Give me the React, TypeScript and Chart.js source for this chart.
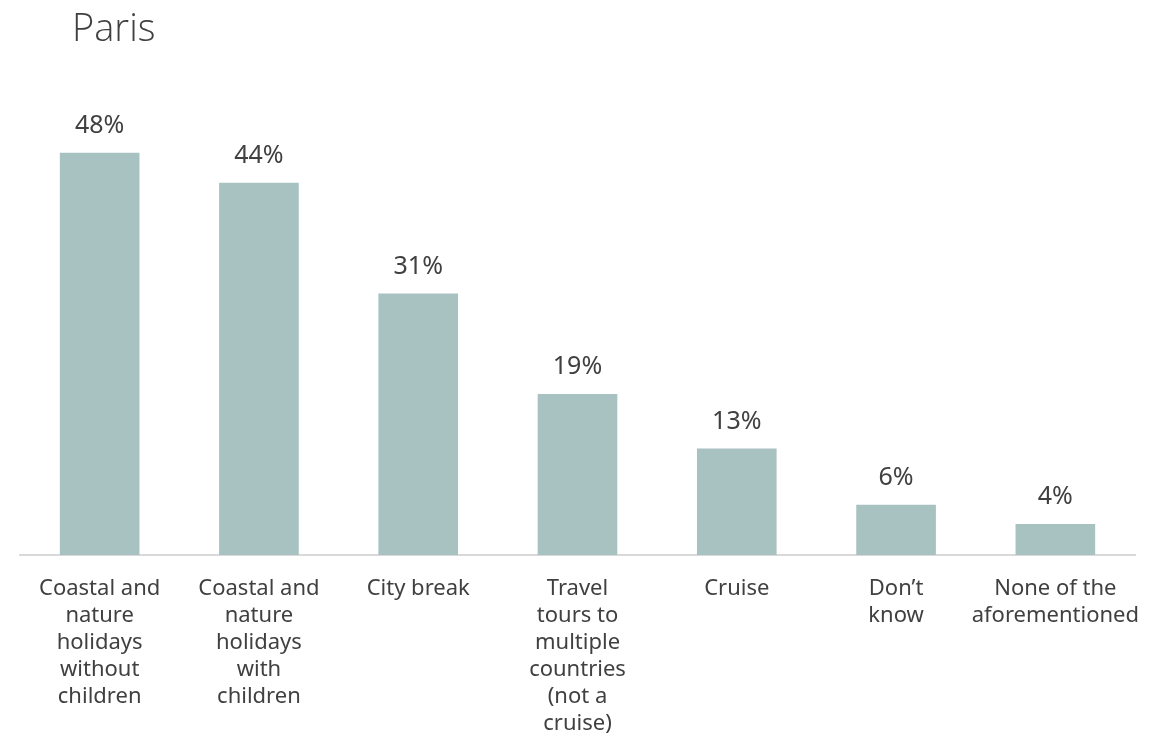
import React, { useEffect, useRef } from "react";
import { Chart, registerables } from "chart.js";

Chart.register(...registerables);

const titleText = "Paris";
const categories: string[][] = [
  ["Coastal and", "nature", "holidays", "without", "children"],
  ["Coastal and", "nature", "holidays", "with", "children"],
  ["City break"],
  ["Travel", "tours to", "multiple", "countries", "(not a", "cruise)"],
  ["Cruise"],
  ["Don\u2019t", "know"],
  ["None of the", "aforementioned"],
];
const values: number[] = [48, 44.4, 31.2, 19.2, 12.7, 6, 3.7];
const valueLabels: string[] = ["48%", "44%", "31%", "19%", "13%", "6%", "4%"];

const FONT = "'Noto Sans', sans-serif";
const TEXT = "#404040";
const BAR = "#A7C2C0";

export default function App() {
  const ref = useRef<HTMLCanvasElement | null>(null);
  useEffect(() => {
    if (!ref.current) return;
    const labelPlugin = {
      id: "valueLabels",
      afterDatasetsDraw(chart: any) {
        const ctx = chart.ctx;
        const meta = chart.getDatasetMeta(0);
        ctx.save();
        ctx.fillStyle = TEXT;
        ctx.font = `25px ${FONT}`;
        ctx.textAlign = "center";
        ctx.textBaseline = "middle";
        meta.data.forEach((bar: any, i: number) => {
          ctx.fillText(valueLabels[i], bar.x, bar.y - 27);
        });
        ctx.restore();
      },
    };
    const titlePlugin = {
      id: "leftTitle",
      afterDraw(chart: any) {
        const ctx = chart.ctx;
        ctx.save();
        ctx.fillStyle = TEXT;
        ctx.font = `300 38px 'Open Sans', sans-serif`;
        ctx.textAlign = "left";
        ctx.textBaseline = "middle";
        ctx.fillText(titleText, 72, 30);
        ctx.restore();
      },
    };
    const chart = new Chart(ref.current, {
      type: "bar",
      data: {
        labels: categories,
        datasets: [
          {
            data: values,
            backgroundColor: BAR,
            barPercentage: 0.5,
            categoryPercentage: 1,
          },
        ],
      },
      options: {
        animation: false,
        responsive: true,
        maintainAspectRatio: false,
        layout: { padding: { left: 20, right: 33, top: 94, bottom: 0 } },
        plugins: {
          legend: { display: false },
          tooltip: { enabled: false },
          title: { display: false },
        },
        scales: {
          x: {
            grid: { display: false, drawTicks: false },
            border: { display: true, color: "#D9D9D9", width: 2 },
            ticks: {
              color: TEXT,
              font: { family: FONT, size: 22, lineHeight: 1.23 },
              padding: 20,
              maxRotation: 0,
              autoSkip: false,
            },
            afterFit(scale: any) {
              scale.height = 189;
            },
          },
          y: {
            display: false,
            min: 0,
            max: 55,
          },
        },
      },
      plugins: [labelPlugin, titlePlugin],
    });
    return () => chart.destroy();
  }, []);
  return (
    <div style={{ position: "fixed", left: 0, top: 0, width: 1168, height: 744, background: "#fff" }}>
      <canvas ref={ref} />
    </div>
  );
}
